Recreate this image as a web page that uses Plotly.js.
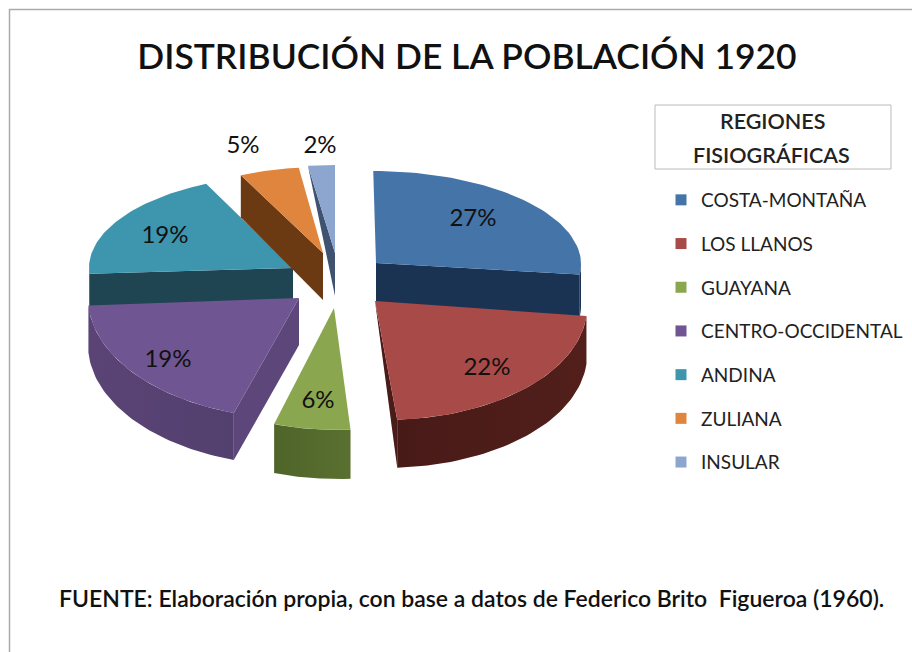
<!DOCTYPE html>
<html><head><meta charset="utf-8">
<script src="https://cdn.plot.ly/plotly-3.0.1.min.js"></script>
<style>html,body{margin:0;padding:0;background:#fff}#c{width:912px;height:652px}</style>
</head><body><div id="c"></div>
<script>
const categories = ["COSTA-MONTAÑA","LOS LLANOS","GUAYANA","CENTRO-OCCIDENTAL","ANDINA","ZULIANA","INSULAR"];
const shares = [27,22,6,19,19,5,2];
const faceColors = ["#4574a8","#a84a47","#8aa64f","#6f5591","#3e96ae","#e0853e","#8ca6d0"];
const wallColors = [["#1b3352","#1b3352"],["#481a17","#521f1b"],["#4f6429","#5a7030"],["#5a4476","#53406e"],["#1f4452","#1f4452"],["#6b3a12","#6b3a12"],["#3f5270","#3f5270"]];
const sideColors = ["#1b3352","#4a1c19","#556b2e","#5d4679","#1f4452","#6b3a12","#3f5270"];
// view of each exploded slice: apex position, radii, tilt shear, wall height, side wall kind
const sliceViews = [
 {cx:376,cy:263,rx:205,ryT:92, ryB:92, sk:0.03, d:42,side:"end"},
 {cx:375,cy:301,rx:212,ryT:100,ryB:119,sk:0.075,d:48,side:"endTri"},
 {cx:334,cy:308,rx:205,ryT:100,ryB:122,sk:0.03, d:49,side:"none"},
 {cx:299,cy:298,rx:211,ryT:100,ryB:121,sk:0,    d:47,side:"start"},
 {cx:293,cy:268,rx:204,ryT:93, ryB:93, sk:0,    d:40,side:"start2"},
 {cx:323,cy:253,rx:193,ryT:86, ryB:86, sk:0,    d:42,side:"start2"},
 {cx:335,cy:253,rx:216,ryT:88, ryB:88, sk:0,    d:43,side:"startTri"}
];
const drawOrder = [4,5,6,0,3,1,2];
const labelX = [473,487,318,168,165,243,320];
const labelY = [220,369,402,361,237,147,147];
const titleText = "DISTRIBUCIÓN DE LA POBLACIÓN 1920";
const legendTitleLines = ["REGIONES","FISIOGRÁFICAS"];
const sourceText = "FUENTE: Elaboración propia, con base a datos de Federico Brito  Figueroa (1960).";
const font = "Lato, 'Open Sans', sans-serif";

function pt(v,deg,dz){
  const a=deg*Math.PI/180, c=Math.cos(a);
  const ry = c>0 ? v.ryT : v.ryB;
  const y = -c*ry;
  return [v.cx+Math.sin(a)*v.rx+v.sk*y, v.cy+y+(dz||0)];
}
function poly(pts,color,grad){
  const t={x:pts.map(p=>p[0]),y:pts.map(p=>p[1]),mode:"lines",fill:"toself",
    line:{width:0,color:color},showlegend:false,hoverinfo:"skip",type:"scatter"};
  if(grad){t.fillgradient={type:"horizontal",colorscale:[[0,grad[0]],[1,grad[1]]]};}
  else t.fillcolor=color;
  return t;
}
const total=shares.reduce((a,b)=>a+b,0);
let acc=0; const spans=shares.map(s=>{const a=acc*360/total; acc+=s; return [a,acc*360/total];});
const traces=[];
drawOrder.forEach(i=>{
  const v=sliceViews[i],[a0,a1]=spans[i];
  const apex=[v.cx,v.cy];
  const arc=[]; for(let k=0;k<=48;k++) arc.push(a0+(a1-a0)*k/48);
  // outer rim wall: only the part that faces the viewer
  const fa=arc.filter(a=>a>=90&&a<=270);
  if(fa.length>1){
    const top=fa.map(a=>pt(v,a,0)), bot=fa.slice().reverse().map(a=>pt(v,a,v.d));
    traces.push(poly(top.concat(bot),wallColors[i][0],wallColors[i]));
  }
  // cut walls
  if(v.side==="end"){const r=pt(v,a1,0);traces.push(poly([apex,r,[r[0],r[1]+v.d],[apex[0],apex[1]+v.d]],sideColors[i]));}
  if(v.side==="endTri"){const e=pt(v,a1,0);traces.push(poly([apex,e,[e[0],e[1]+v.d]],sideColors[i]));}
  if(v.side==="start"){const e=pt(v,a0,0);traces.push(poly([apex,e,[e[0],e[1]+v.d],[apex[0],apex[1]+v.d]],sideColors[i]));}
  if(v.side==="start2"){const r=pt(v,a0,0);traces.push(poly([apex,r,[r[0],r[1]+v.d],[apex[0],apex[1]+(i===5?47:v.d)]],sideColors[i]));}
  if(v.side==="startTri"){const r=pt(v,a0,0);traces.push(poly([apex,r,[apex[0],apex[1]+v.d]],sideColors[i]));}
  traces.push(poly([apex].concat(arc.map(a=>pt(v,a,0))),faceColors[i]));
});
traces.push({type:"scatter",mode:"text",x:labelX,y:labelY,text:shares.map(s=>s+"%"),
  textposition:"middle center",textfont:{family:font,size:24,color:"#111"},showlegend:false,hoverinfo:"skip"});
categories.forEach((c,i)=>traces.push({type:"scatter",mode:"markers",x:[null],y:[null],name:c,legendgroup:c,
  marker:{symbol:"square",size:11,color:faceColors[i]},showlegend:true}));

const layout={
  width:912,height:652,margin:{l:0,r:0,t:0,b:0},paper_bgcolor:"#fff",plot_bgcolor:"#fff",
  title:{text:titleText,x:467/912,xanchor:"center",y:1-57/652,yanchor:"middle",font:{family:font,size:35.4,color:"#111",weight:600}},
  xaxis:{range:[0,912],visible:false,fixedrange:true},
  yaxis:{range:[652,0],visible:false,fixedrange:true},
  legend:{x:661/912,xanchor:"left",y:1-181/652,yanchor:"top",traceorder:"grouped",tracegroupgap:16,
    font:{family:font,size:19,color:"#222"},bgcolor:"rgba(0,0,0,0)"},
  shapes:[
    {type:"rect",xref:"x",yref:"y",x0:9.5,x1:920,y0:9.5,y1:660,line:{color:"#aaa",width:1.5},layer:"below"},
    {type:"rect",xref:"x",yref:"y",x0:655,x1:891,y0:105,y1:169,line:{color:"#bbb",width:1},layer:"below"}
  ],
  annotations:[
    {xref:"x",yref:"y",x:772,y:121,text:legendTitleLines[0],showarrow:false,font:{family:font,size:21.5,color:"#222",weight:600}},
    {xref:"x",yref:"y",x:771,y:155,text:legendTitleLines[1],showarrow:false,font:{family:font,size:21.5,color:"#222",weight:600}},
    {xref:"x",yref:"y",x:471,y:598,text:sourceText,showarrow:false,font:{family:font,size:23,color:"#111",weight:600}}
  ]
};
Plotly.newPlot("c",traces,layout,{displayModeBar:false,staticPlot:true});
</script></body></html>
